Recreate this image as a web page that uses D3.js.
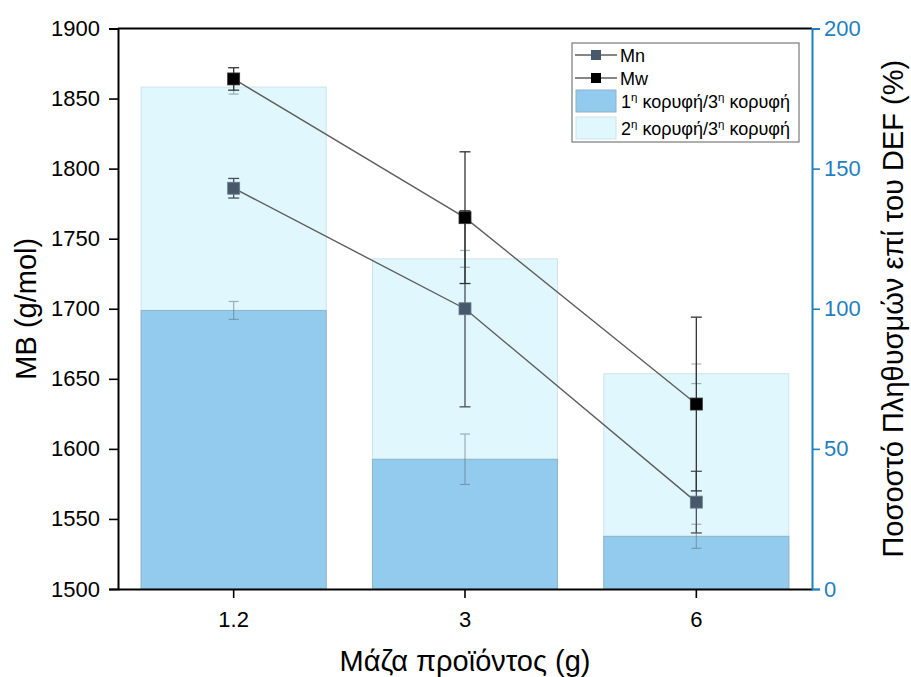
<!DOCTYPE html>
<html>
<head>
<meta charset="utf-8">
<script src="https://cdn.jsdelivr.net/npm/d3@7"></script>
<style>
  html, body { margin: 0; padding: 0; background: #fff; }
  svg { display: block; font-family: "Liberation Sans", Arial, sans-serif; }
</style>
</head>
<body>
<svg id="chart" width="911" height="677"></svg>
<script>
// Product mass categories (g)
const categories = ["1.2", "3", "6"];

// Molecular weights (g/mol) with standard deviations
const mnValues = [1786, 1700, 1562];
const mnErrors = [7, 70, 22];
const mwValues = [1864, 1765, 1632];
const mwErrors = [8, 47, 62];

// Population ratios (%) on the right axis, with deviations
const peak1Ratio = [99.4, 46.3, 18.8];
const peak1Errors = [3.2, 9, 4.3];
const peak2Ratio = [179.1, 117.8, 76.8];
const peak2Errors = [2.5, 3, 3.5];

const leftTicks = [1500, 1550, 1600, 1650, 1700, 1750, 1800, 1850, 1900];
const rightTicks = [0, 50, 100, 150, 200];
const rightMinorTicks = [25, 75, 125, 175];

const svg = d3.select("#chart");
const m = { left: 118, right: 812, top: 28.5, bottom: 589 };

const x = d3.scaleBand().domain(categories).range([m.left, m.right])
  .paddingInner(0.2).paddingOuter(0.1);
const yL = d3.scaleLinear().domain([1500, 1900]).range([m.bottom, m.top]);
const yR = d3.scaleLinear().domain([0, 200]).range([m.bottom, m.top]);
const cx = c => x(c) + x.bandwidth() / 2;

const blueAxis = "#1f7fc0";
const fontFam = "Liberation Sans, Arial, sans-serif";

// Bars: 2nd/3rd peak behind, 1st/3rd peak in front
const barGroup = svg.append("g");
barGroup.selectAll(".b2").data(categories).join("rect")
  .attr("x", d => x(d)).attr("width", x.bandwidth())
  .attr("y", (d, i) => yR(peak2Ratio[i]))
  .attr("height", (d, i) => yR(0) - yR(peak2Ratio[i]))
  .attr("fill", "#e0f7fd").attr("stroke", "#cfe3ea").attr("stroke-width", 1);
barGroup.selectAll(".b1").data(categories).join("rect")
  .attr("x", d => x(d)).attr("width", x.bandwidth())
  .attr("y", (d, i) => yR(peak1Ratio[i]))
  .attr("height", (d, i) => yR(0) - yR(peak1Ratio[i]))
  .attr("fill", "#92cbee").attr("stroke", "#8fb2c6").attr("stroke-width", 1);

// Error bar helper: vertical stem with two caps
function errorBar(g, xc, yTop, yBot, color, width, cap) {
  g.append("line").attr("x1", xc).attr("x2", xc).attr("y1", yTop).attr("y2", yBot)
    .attr("stroke", color).attr("stroke-width", width);
  [yTop, yBot].forEach(yy => g.append("line")
    .attr("x1", xc - cap).attr("x2", xc + cap).attr("y1", yy).attr("y2", yy)
    .attr("stroke", color).attr("stroke-width", width));
}
const barErr = svg.append("g").attr("opacity", 0.55);
categories.forEach((c, i) => {
  errorBar(barErr, cx(c), yR(peak2Ratio[i] + peak2Errors[i]), yR(peak2Ratio[i] - peak2Errors[i]), "#5f7584", 1.2, 5);
  errorBar(barErr, cx(c), yR(peak1Ratio[i] + peak1Errors[i]), yR(peak1Ratio[i] - peak1Errors[i]), "#5f7584", 1.2, 5);
});

// Lines for Mn and Mw
const line = d3.line().x(d => cx(d.c)).y(d => yL(d.v));
const mnData = categories.map((c, i) => ({ c, v: mnValues[i], e: mnErrors[i] }));
const mwData = categories.map((c, i) => ({ c, v: mwValues[i], e: mwErrors[i] }));
svg.append("path").datum(mnData).attr("d", line)
  .attr("fill", "none").attr("stroke", "#5e5e5e").attr("stroke-width", 1.4);
svg.append("path").datum(mwData).attr("d", line)
  .attr("fill", "none").attr("stroke", "#5e5e5e").attr("stroke-width", 1.4);

// Point error bars
const ptErr = svg.append("g");
mnData.forEach(d => errorBar(ptErr, cx(d.c), yL(d.v + d.e), yL(d.v - d.e), "#4b4f55", 1.3, 5.5));
mwData.forEach(d => errorBar(ptErr, cx(d.c), yL(d.v + d.e), yL(d.v - d.e), "#333", 1.3, 5.5));

// Markers
const ms = 12;
svg.selectAll(".mn").data(mnData).join("rect")
  .attr("x", d => cx(d.c) - ms / 2).attr("y", d => yL(d.v) - ms / 2)
  .attr("width", ms).attr("height", ms)
  .attr("fill", "#46596a").attr("stroke", "#6d7d8a").attr("stroke-width", 0.8);
svg.selectAll(".mw").data(mwData).join("rect")
  .attr("x", d => cx(d.c) - ms / 2).attr("y", d => yL(d.v) - ms / 2)
  .attr("width", ms).attr("height", ms)
  .attr("fill", "#000").attr("stroke", "#333").attr("stroke-width", 0.8);

// Axes
const tickFont = 22;
const gL = svg.append("g").attr("transform", `translate(${m.left},0)`)
  .call(d3.axisLeft(yL).tickValues(leftTicks).tickSize(9).tickPadding(9).tickFormat(d3.format("d")));
gL.select(".domain").attr("stroke", "#000").attr("stroke-width", 2);
gL.selectAll(".tick line").attr("stroke", "#000").attr("stroke-width", 1.6);
gL.selectAll(".tick text").attr("font-size", tickFont).attr("fill", "#000")
  .attr("font-family", fontFam);

const gB = svg.append("g").attr("transform", `translate(0,${m.bottom})`)
  .call(d3.axisBottom(x).tickSize(9).tickPadding(13).tickSizeOuter(0));
gB.select(".domain").attr("stroke", "#000").attr("stroke-width", 2);
gB.selectAll(".tick line").attr("stroke", "#000").attr("stroke-width", 1.6);
gB.selectAll(".tick text").attr("font-size", tickFont).attr("fill", "#000")
  .attr("font-family", fontFam);

// Top frame line
svg.append("line").attr("x1", m.left).attr("x2", m.right).attr("y1", m.top).attr("y2", m.top)
  .attr("stroke", "#000").attr("stroke-width", 2);

const gR = svg.append("g").attr("transform", `translate(${m.right},0)`);
gR.call(d3.axisRight(yR).tickValues(rightMinorTicks).tickSize(7).tickFormat(""));
gR.call(d3.axisRight(yR).tickValues(rightTicks).tickSize(8).tickPadding(4).tickFormat(d3.format("d")));
gR.selectAll(".domain").attr("stroke", blueAxis).attr("stroke-width", 2);
gR.selectAll(".tick line").attr("stroke", blueAxis).attr("stroke-width", 1.6);
gR.selectAll(".tick text").attr("font-size", tickFont).attr("fill", blueAxis)
  .attr("font-family", fontFam);

// Axis titles
const titleFont = 29;
const midY = (m.top + m.bottom) / 2;
svg.append("text").attr("transform", `translate(36,${midY}) rotate(-90)`)
  .attr("text-anchor", "middle").attr("font-size", titleFont).attr("fill", "#000")
  .text("MB (g/mol)");
svg.append("text").attr("transform", `translate(903,${midY}) rotate(-90)`)
  .attr("text-anchor", "middle").attr("font-size", titleFont).attr("fill", "#000")
  .text("Ποσοστό Πληθυσμών επί του DEF (%)");
svg.append("text").attr("x", (m.left + m.right) / 2).attr("y", 671)
  .attr("text-anchor", "middle").attr("font-size", titleFont).attr("fill", "#000")
  .text("Μάζα προϊόντος (g)");

// Legend
const lg = svg.append("g");
lg.append("rect").attr("x", 572).attr("y", 43).attr("width", 227).attr("height", 99)
  .attr("fill", "#fff").attr("stroke", "#7a7a7a").attr("stroke-width", 1.2);
const legFont = 18;
[{ y: 55, label: "Mn", fill: "#46596a" }, { y: 78, label: "Mw", fill: "#000" }].forEach(e => {
  lg.append("line").attr("x1", 575).attr("x2", 617).attr("y1", e.y).attr("y2", e.y)
    .attr("stroke", "#5e5e5e").attr("stroke-width", 1.3);
  lg.append("rect").attr("x", 591).attr("y", e.y - 5).attr("width", 10).attr("height", 10)
    .attr("fill", e.fill);
  lg.append("text").attr("x", 620).attr("y", e.y + 6.5).attr("font-size", legFont).text(e.label);
});
[{ y: 101, n: "1", fill: "#92cbee", stroke: "#8fb2c6" }, { y: 128, n: "2", fill: "#e0f7fd", stroke: "#cfe3ea" }].forEach(e => {
  lg.append("rect").attr("x", 576).attr("y", e.y - 11).attr("width", 40).attr("height", 22)
    .attr("fill", e.fill).attr("stroke", e.stroke);
  const t = lg.append("text").attr("x", 621).attr("y", e.y + 6.5).attr("font-size", legFont);
  t.append("tspan").text(e.n);
  t.append("tspan").attr("dy", -7).attr("font-size", 11.5).text("η");
  t.append("tspan").attr("dy", 7).text(" κορυφή/3");
  t.append("tspan").attr("dy", -7).attr("font-size", 11.5).text("η");
  t.append("tspan").attr("dy", 7).text(" κορυφή");
});
</script>
</body>
</html>
